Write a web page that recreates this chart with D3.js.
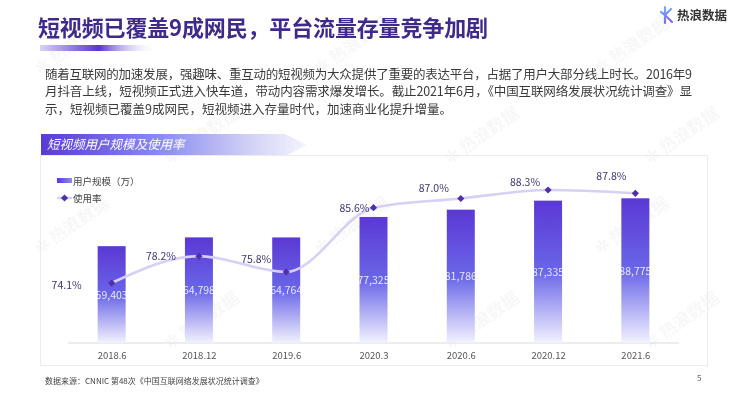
<!DOCTYPE html>
<html>
<head>
<meta charset="utf-8">
<script src="https://cdn.jsdelivr.net/npm/d3@7"></script>
<style>
  html, body { margin: 0; padding: 0; background: #ffffff; }
  svg { display: block; }
  text { font-family: "Noto Sans CJK SC", "Noto Sans", sans-serif; }
</style>
</head>
<body>
<svg id="chart" width="740" height="396"></svg>
<script>
// ---------- data ----------
const categories = ["2018.6", "2018.12", "2019.6", "2020.3", "2020.6", "2020.12", "2021.6"];
const users = [59403, 64798, 64764, 77325, 81786, 87335, 88775];   // 用户规模（万）
const rates = [74.1, 78.2, 75.8, 85.6, 87.0, 88.3, 87.8];          // 使用率 %
const titleText = "短视频已覆盖9成网民，平台流量存量竞争加剧";
const paragraphLines = [
  "随着互联网的加速发展，强趣味、重互动的短视频为大众提供了重要的表达平台，占据了用户大部分线上时长。2016年9",
  "月抖音上线，短视频正式进入快车道，带动内容需求爆发增长。截止2021年6月，《中国互联网络发展状况统计调查》显",
  "示，短视频已覆盖9成网民，短视频进入存量时代，加速商业化提升增量。"
];
const sectionTitle = "短视频用户规模及使用率";
const legendLabels = ["用户规模（万）", "使用率"];
const sourceText = "数据来源：CNNIC  第48次《中国互联网络发展状况统计调查》";
const pageNumber = "5";
const brandText = "热浪数据";

// ---------- layout (not data) ----------
const rateLabelOffsets = [[-45, 2], [-38, 0], [-30, -13], [-19, 0], [-27, -11], [-23, -8], [-24, -17]];

const svg = d3.select("#chart");
const defs = svg.append("defs");

// gradients
const barGrad = defs.append("linearGradient").attr("id", "barGrad")
  .attr("x1", 0).attr("y1", 0).attr("x2", 0).attr("y2", 1);
barGrad.append("stop").attr("offset", "0%").attr("stop-color", "#5b38d4");
barGrad.append("stop").attr("offset", "50%").attr("stop-color", "#6a66e8");
barGrad.append("stop").attr("offset", "100%").attr("stop-color", "#f2f2fe");

const legGrad = defs.append("linearGradient").attr("id", "legGrad")
  .attr("x1", 0).attr("y1", 0).attr("x2", 1).attr("y2", 0);
legGrad.append("stop").attr("offset", "0%").attr("stop-color", "#5b38d4");
legGrad.append("stop").attr("offset", "100%").attr("stop-color", "#8c8cf0");

const bannerGrad = defs.append("linearGradient").attr("id", "bannerGrad")
  .attr("x1", 0).attr("y1", 0).attr("x2", 1).attr("y2", 0);
bannerGrad.append("stop").attr("offset", "0%").attr("stop-color", "#5a3bd5");
bannerGrad.append("stop").attr("offset", "45%").attr("stop-color", "#8a8bf0");
bannerGrad.append("stop").attr("offset", "80%").attr("stop-color", "#d4d4f7");
bannerGrad.append("stop").attr("offset", "100%").attr("stop-color", "#f4f4fd");

const ulGrad = defs.append("linearGradient").attr("id", "ulGrad")
  .attr("x1", 0).attr("y1", 0).attr("x2", 1).attr("y2", 0);
ulGrad.append("stop").attr("offset", "0%").attr("stop-color", "#d8d2f6");
ulGrad.append("stop").attr("offset", "50%").attr("stop-color", "#5a34d0");
ulGrad.append("stop").attr("offset", "100%").attr("stop-color", "#ffffff").attr("stop-opacity", 0);

const logoGrad = defs.append("linearGradient").attr("id", "logoGrad")
  .attr("gradientUnits", "userSpaceOnUse")
  .attr("x1", 664).attr("y1", 7).attr("x2", 668).attr("y2", 24);
logoGrad.append("stop").attr("offset", "0%").attr("stop-color", "#6cb4f2");
logoGrad.append("stop").attr("offset", "100%").attr("stop-color", "#8a5eee");

// ---------- watermarks ----------
const wm = svg.append("g").attr("fill", "#000").attr("opacity", 0.035);
const wmRows = [[75, [40, 320, 600]], [165, [170, 450, 650]], [255, [40, 320, 600]], [350, [170, 450, 650]]];
wmRows.forEach(([y, xs]) => xs.forEach(x => {
  wm.append("text").attr("transform", `translate(${x},${y}) rotate(-35)`)
    .attr("font-size", 17).attr("font-weight", 700).text("\u2732 " + brandText);
}));

// ---------- header ----------
svg.append("text").attr("x", 38).attr("y", 36)
  .attr("font-size", 22).attr("font-weight", 700).attr("fill", "#3f2a8a")
  .attr("textLength", 450).attr("lengthAdjust", "spacing")
  .text(titleText);
svg.append("rect").attr("x", 40).attr("y", 45).attr("width", 118).attr("height", 6)
  .attr("fill", "url(#ulGrad)");

// logo
const logo = svg.append("g").attr("stroke", "url(#logoGrad)").attr("stroke-width", 2.2)
  .attr("stroke-linecap", "round").attr("fill", "none");
logo.append("line").attr("x1", 665).attr("y1", 7).attr("x2", 665).attr("y2", 23);
logo.append("line").attr("x1", 665).attr("y1", 15).attr("x2", 671).attr("y2", 9);
logo.append("line").attr("x1", 665).attr("y1", 15).attr("x2", 672).attr("y2", 22);
logo.append("line").attr("x1", 661).attr("y1", 12).attr("x2", 665).attr("y2", 15);
svg.append("text").attr("x", 677).attr("y", 20).attr("font-size", 12.5).attr("font-weight", 700)
  .attr("fill", "#333").text(brandText);

// paragraph
const para = svg.append("text").attr("font-size", 12.5).attr("fill", "#3a3a3a");
paragraphLines.forEach((line, i) => {
  const t = para.append("tspan").attr("x", 45).attr("y", 78.5 + i * 17.6).text(line);
  if (i < paragraphLines.length - 1) t.attr("textLength", 647).attr("lengthAdjust", "spacing");
});

// ---------- panel ----------
svg.append("rect").attr("x", 40.5).attr("y", 155.5).attr("width", 667).attr("height", 210)
  .attr("fill", "none").attr("stroke", "#ececf0");

// banner
svg.append("path")
  .attr("d", "M41,134 L285,134 L307,145 L287,155 L41,155 Z")
  .attr("fill", "url(#bannerGrad)");
svg.append("text").attr("x", 47).attr("y", 149).attr("font-size", 12.5)
  .attr("font-style", "italic").attr("fill", "#ffffff").text(sectionTitle);

// ---------- scales ----------
const x = d3.scalePoint().domain(categories).range([68, 679]).padding(0.5);
const yBar = d3.scaleLinear().domain([0, 100000]).range([343, 180]);
const yRate = d3.scaleLinear().domain([60, 95]).range([375.4, 146.1]);
const barW = 28;

// axis
const xAxis = d3.axisBottom(x).tickSize(0).tickPadding(9);
const axisG = svg.append("g").attr("transform", "translate(0,343)").call(xAxis);
axisG.select(".domain").attr("stroke", "#dcdcdc").attr("stroke-width", 1.2)
  .attr("d", "M68,0H679");
axisG.selectAll(".tick text").attr("font-size", 9.5).attr("fill", "#555")
  .attr("font-family", "Liberation Sans, Arial, sans-serif");

// bars
const bars = svg.append("g");
bars.selectAll("rect").data(users).join("rect")
  .attr("x", (d, i) => x(categories[i]) - barW / 2)
  .attr("y", d => yBar(d))
  .attr("width", barW)
  .attr("height", d => yBar(0) - yBar(d))
  .attr("fill", "url(#barGrad)");

bars.selectAll("text").data(users).join("text")
  .attr("x", (d, i) => x(categories[i]))
  .attr("y", d => (yBar(d) + yBar(0)) / 2 + 4)
  .attr("text-anchor", "middle")
  .attr("font-size", 10.5)
  .attr("font-family", "Liberation Sans, Arial, sans-serif")
  .attr("fill", "#ffffff").attr("fill-opacity", 0.85)
  .text(d => d3.format(",")(d));

// line
const line = d3.line()
  .x((d, i) => x(categories[i]))
  .y(d => yRate(d))
  .curve(d3.curveMonotoneX);
svg.append("path").datum(rates)
  .attr("d", line)
  .attr("fill", "none").attr("stroke", "#d6d0f4").attr("stroke-width", 2.6);

const marker = d3.symbol().type(d3.symbolSquare).size(26);
svg.append("g").selectAll("path").data(rates).join("path")
  .attr("d", marker)
  .attr("transform", (d, i) => `translate(${x(categories[i])},${yRate(d)}) rotate(45)`)
  .attr("fill", "#4e2fae");

svg.append("g").selectAll("text").data(rates).join("text")
  .attr("x", (d, i) => x(categories[i]) + rateLabelOffsets[i][0])
  .attr("y", (d, i) => yRate(d) + rateLabelOffsets[i][1] + 4)
  .attr("text-anchor", "middle")
  .attr("font-size", 10.5)
  .attr("font-family", "Liberation Sans, Arial, sans-serif")
  .attr("fill", "#3e3672")
  .text(d => d3.format(".1f")(d) + "%");

// ---------- legend ----------
const leg = svg.append("g");
leg.append("rect").attr("x", 57).attr("y", 178).attr("width", 15).attr("height", 5).attr("fill", "url(#legGrad)");
leg.append("text").attr("x", 73).attr("y", 184.5).attr("font-size", 9.5).attr("fill", "#444").text(legendLabels[0]);
leg.append("line").attr("x1", 57).attr("x2", 72).attr("y1", 198).attr("y2", 198)
  .attr("stroke", "#d6d0f4").attr("stroke-width", 2.4);
leg.append("path").attr("d", marker).attr("transform", "translate(64.5,198) rotate(45)").attr("fill", "#4e2fae");
leg.append("text").attr("x", 73).attr("y", 201.5).attr("font-size", 9.5).attr("fill", "#444").text(legendLabels[1]);

// ---------- footer ----------
svg.append("text").attr("x", 45).attr("y", 383.5).attr("font-size", 8).attr("fill", "#444").text(sourceText);
svg.append("text").attr("x", 697).attr("y", 381).attr("font-size", 8).attr("fill", "#666").text(pageNumber);
</script>
</body>
</html>
